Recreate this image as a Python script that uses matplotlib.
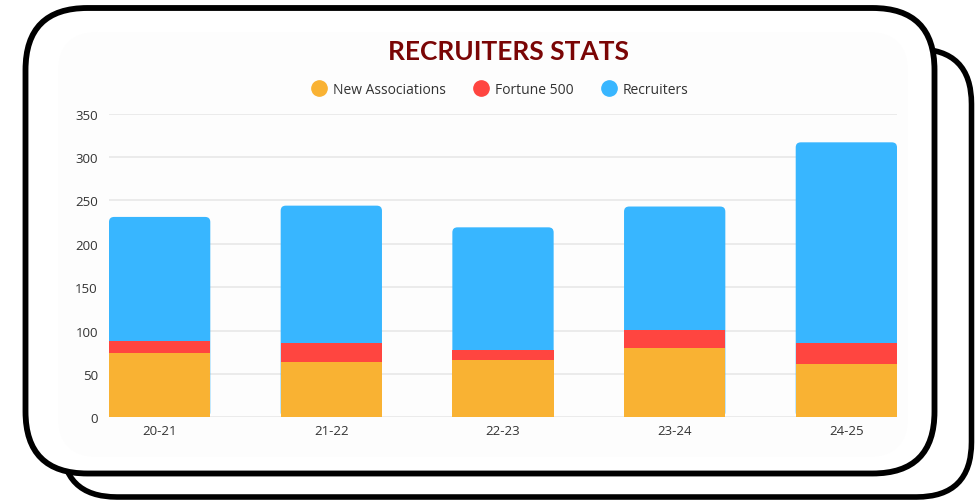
import matplotlib.pyplot as plt
from matplotlib.patches import FancyBboxPatch
from matplotlib.lines import Line2D
import numpy as np

# Data
years = ["20-21", "21-22", "22-23", "23-24", "24-25"]
new_associations = [74, 64, 66, 80, 61]
fortune_500 = [14, 22, 12, 21, 25]
recruiters = [143, 158, 141, 142, 231]
y_ticks = [0, 50, 100, 150, 200, 250, 300, 350]

c_orange = "#F9B233"
c_red = "#FF4540"
c_blue = "#38B6FF"
text_col = "#333333"

plt.rcParams["font.family"] = ["Open Sans", "DejaVu Sans"]

fig = plt.figure(figsize=(9.8, 5.02), dpi=100)
fig.patch.set_facecolor("white")

# Background frame in pixel coordinates
bg = fig.add_axes([0, 0, 1, 1])
bg.set_xlim(0, 980)
bg.set_ylim(502, 0)
bg.axis("off")
bg.set_zorder(0)

back = FancyBboxPatch((62, 50), 909.5, 448, boxstyle="round,pad=0,rounding_size=55",
                      facecolor="white", edgecolor="black", linewidth=4.0)
bg.add_patch(back)
front = FancyBboxPatch((25.5, 9), 909, 465.5, boxstyle="round,pad=0,rounding_size=62",
                       facecolor="white", edgecolor="black", linewidth=4.2)
bg.add_patch(front)
panel = FancyBboxPatch((58, 33), 850, 425, boxstyle="round,pad=0,rounding_size=40",
                       facecolor="#fdfdfd", edgecolor="none")
bg.add_patch(panel)

# Title
fig.text(0.5185, 1 - 51.5 / 502, "RECRUITERS STATS", ha="center", va="center",
         fontsize=19, fontweight="bold", color="#7A0505",
         family=["Lato", "DejaVu Sans"])

# Chart
ax = fig.add_axes([109 / 980, (502 - 418.3) / 502, 788 / 980, 303.6 / 502])
ax.set_zorder(1)
ax.patch.set_alpha(0)

x = np.arange(len(years))
w = 0.59
na = np.array(new_associations)
f5 = np.array(fortune_500)
rc = np.array(recruiters)
totals = na + f5 + rc

# blue bars with rounded tops, drawn from 0 and covered by the lower segments
blue = ax.bar(x, totals, w, color=c_blue, zorder=2)
for r in blue:
    r.set_visible(False)
    rounded = FancyBboxPatch((r.get_x(), r.get_y()), r.get_width(), r.get_height(),
                             boxstyle="round,pad=0,rounding_size=0.03",
                             mutation_aspect=195, facecolor=c_blue,
                             edgecolor="none", zorder=2)
    ax.add_patch(rounded)
ax.bar(x, f5, w, bottom=na, color=c_red, zorder=3)
ax.bar(x, na, w, color=c_orange, zorder=3)

ax.set_xlim(-0.295, len(years) - 1 + 0.295)
ax.set_ylim(0, 350)
ax.set_yticks(y_ticks)
ax.set_xticks(x)
ax.set_xticklabels(years)
ax.tick_params(axis="both", length=0, labelsize=9.5, colors=text_col)
ax.tick_params(axis="y", pad=8)
ax.tick_params(axis="x", pad=5)
ax.grid(axis="y", color="#e8e8e8", linewidth=1.2, zorder=0)
ax.set_axisbelow(True)
for s in ax.spines.values():
    s.set_visible(False)

handles = [Line2D([], [], marker="o", linestyle="none", markersize=11,
                  markerfacecolor=c, markeredgecolor=c) for c in (c_orange, c_red, c_blue)]
fig.legend(handles, ["New Associations", "Fortune 500", "Recruiters"],
           loc="center", bbox_to_anchor=(499.5 / 980, 1 - 90 / 502), ncol=3, frameon=False,
           fontsize=10, labelcolor=text_col, handletextpad=0.41, columnspacing=1.95,
           handlelength=1.2)

fig.savefig("out.png", dpi=100)
